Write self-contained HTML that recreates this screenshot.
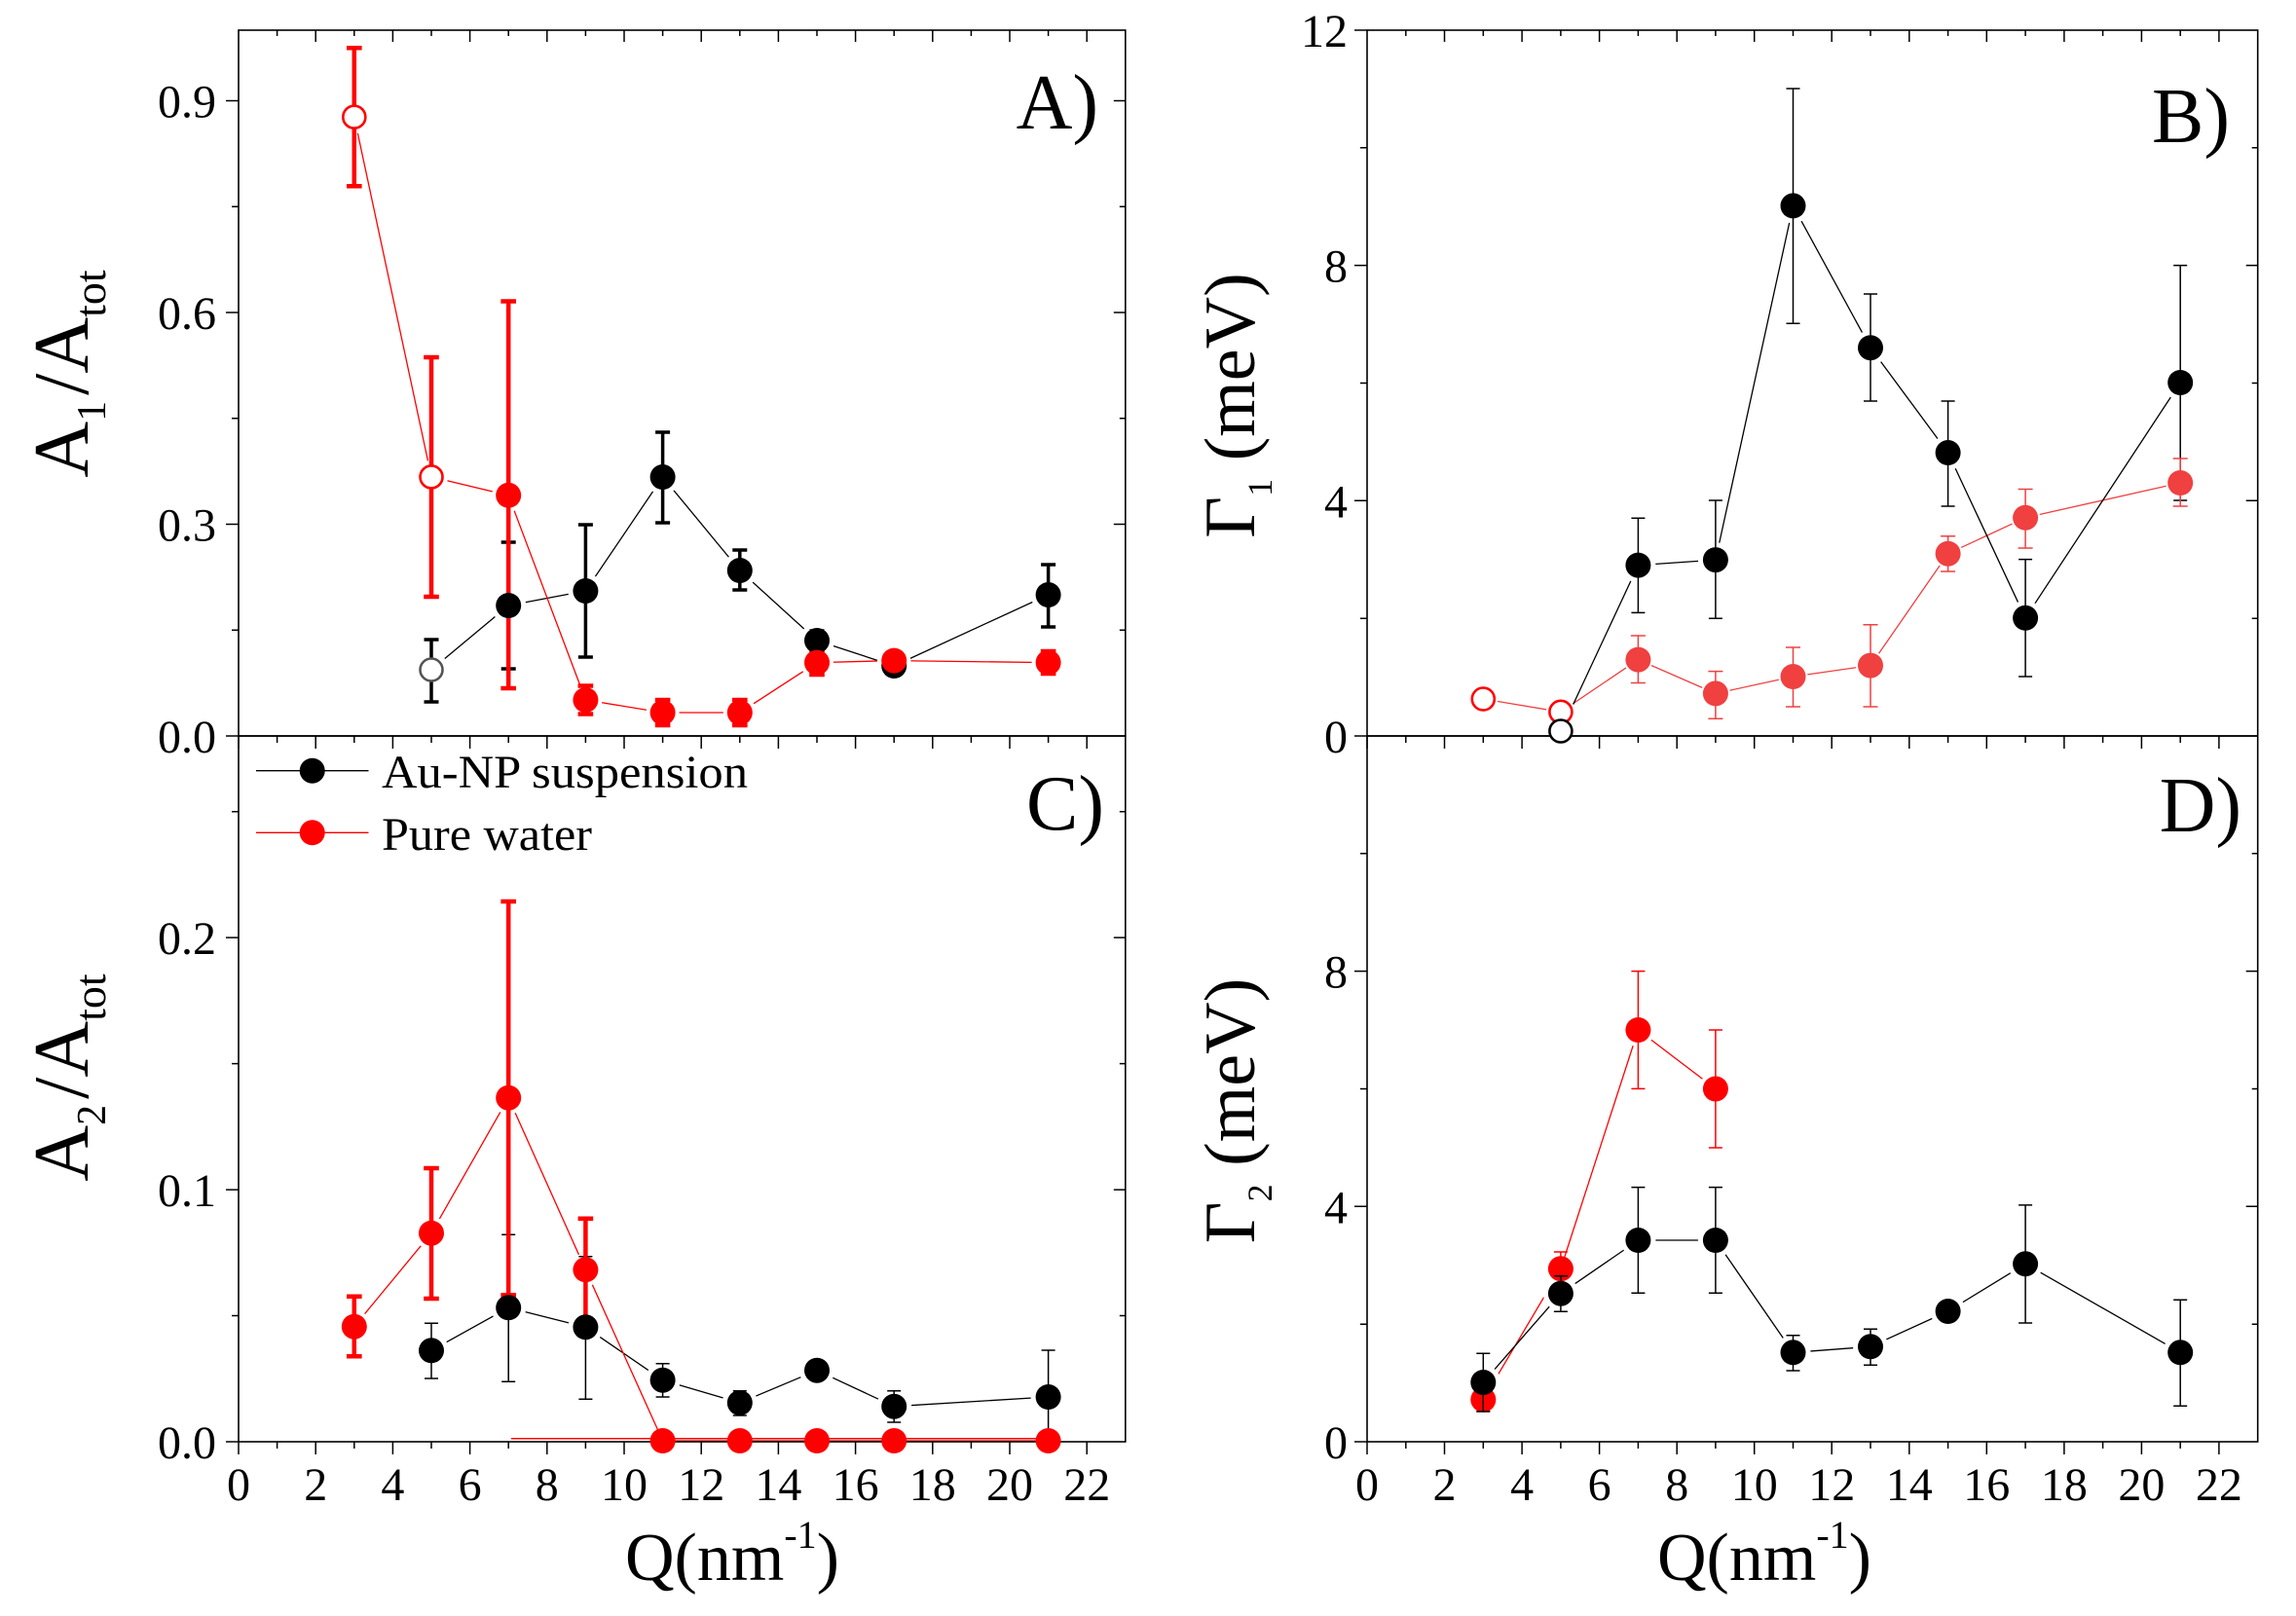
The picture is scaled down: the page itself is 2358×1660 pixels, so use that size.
<!DOCTYPE html>
<html>
<head>
<meta charset="utf-8">
<style>
html,body{margin:0;padding:0;background:#fff;}
svg{display:block;}
text{font-family:"Liberation Serif","DejaVu Serif",serif;fill:#000;}
</style>
</head>
<body>
<svg width="2358" height="1660" viewBox="0 0 2358 1660" xmlns="http://www.w3.org/2000/svg">
<rect width="2358" height="1660" fill="#fff"/>

<!-- ===== connecting lines ===== -->
<g fill="none" stroke-width="1.3" stroke-linejoin="round">
  <polyline stroke="#000" points="443,688 522.2,622 601.4,607 680.6,490 759.8,586 839,658 918.2,684 1076.6,611"/>
  <polyline stroke="#ff0000" points="363.8,120.2 443,489.9 522.2,508.8 601.4,719 680.6,732 759.8,732 839,680.6 918.2,678.6 1076.6,680.6"/>
  <polyline stroke="#f04040" points="1523.3,718 1602.9,731.3 1682.4,677.6 1761.9,712.4 1841.5,695 1921,683.6 2000.6,568.7 2080.1,531.8 2239.2,496"/>
  <polyline stroke="#000" points="1602.9,751 1682.4,580.6 1761.9,575.1 1841.5,211.4 1921,357.2 2000.6,465 2080.1,634.8 2239.2,393"/>
  <polyline stroke="#000" points="443,1387.3 522.2,1343.3 601.4,1363.3 680.6,1417.7 759.8,1441 839,1407.7 918.2,1444.7 1076.6,1435"/>
  <polyline stroke="#ff0000" points="363.8,1362.7 443,1266.7 522.2,1127.7 601.4,1304.3 680.6,1480 759.8,1480 839,1480 918.2,1480 1076.6,1480"/>
  <polyline stroke="#ff0000" points="1523.3,1437.7 1602.9,1303.3 1682.4,1058 1761.9,1118.5"/>
  <polyline stroke="#000" points="1523.3,1420 1602.9,1328.7 1682.4,1274 1761.9,1274 1841.5,1389.3 1921,1383.3 2000.6,1347 2080.1,1298.3 2239.2,1389.3"/>
</g>

<!-- ===== white halos ===== -->
<g fill="#fff">
  <circle cx="443" cy="688" r="18"/><circle cx="522.2" cy="622" r="18"/><circle cx="601.4" cy="607" r="18"/><circle cx="680.6" cy="490" r="18"/><circle cx="759.8" cy="586" r="18"/><circle cx="839" cy="658" r="18"/><circle cx="918.2" cy="684" r="18"/><circle cx="1076.6" cy="611" r="18"/>
  <circle cx="363.8" cy="120.2" r="17"/><circle cx="443" cy="489.9" r="17"/><circle cx="522.2" cy="508.8" r="17"/><circle cx="601.4" cy="719" r="17"/><circle cx="680.6" cy="732" r="17"/><circle cx="759.8" cy="732" r="17"/><circle cx="839" cy="680.6" r="17"/><circle cx="918.2" cy="678.6" r="17"/><circle cx="1076.6" cy="680.6" r="17"/>
  <circle cx="1523.3" cy="718" r="15"/><circle cx="1602.9" cy="731.3" r="15"/><circle cx="1682.4" cy="677.6" r="15"/><circle cx="1761.9" cy="712.4" r="15"/><circle cx="1841.5" cy="695" r="15"/><circle cx="1921" cy="683.6" r="15"/><circle cx="2000.6" cy="568.7" r="15"/><circle cx="2080.1" cy="531.8" r="15"/><circle cx="2239.2" cy="496" r="15"/>
  <circle cx="1602.9" cy="751" r="17"/><circle cx="1682.4" cy="580.6" r="18"/><circle cx="1761.9" cy="575.1" r="18"/><circle cx="1841.5" cy="211.4" r="18"/><circle cx="1921" cy="357.2" r="18"/><circle cx="2000.6" cy="465" r="18"/><circle cx="2080.1" cy="634.8" r="18"/><circle cx="2239.2" cy="393" r="18"/>
  <circle cx="443" cy="1387.3" r="18"/><circle cx="522.2" cy="1343.3" r="18"/><circle cx="601.4" cy="1363.3" r="18"/><circle cx="680.6" cy="1417.7" r="18"/><circle cx="759.8" cy="1441" r="18"/><circle cx="839" cy="1407.7" r="18"/><circle cx="918.2" cy="1444.7" r="18"/><circle cx="1076.6" cy="1435" r="18"/>
  <circle cx="363.8" cy="1362.7" r="17"/><circle cx="443" cy="1266.7" r="17"/><circle cx="522.2" cy="1127.7" r="17"/><circle cx="601.4" cy="1304.3" r="17"/>
  <circle cx="1523.3" cy="1420" r="18"/><circle cx="1602.9" cy="1328.7" r="18"/><circle cx="1682.4" cy="1274" r="18"/><circle cx="1761.9" cy="1274" r="18"/><circle cx="1841.5" cy="1389.3" r="18"/><circle cx="1921" cy="1383.3" r="18"/><circle cx="2000.6" cy="1347" r="18"/><circle cx="2080.1" cy="1298.3" r="18"/><circle cx="2239.2" cy="1389.3" r="18"/>
  <circle cx="1682.4" cy="1058" r="17"/><circle cx="1761.9" cy="1118.5" r="17"/>
</g>

<path d="M525 1477.7H1076.6" stroke="#ff0000" stroke-width="1.5" fill="none"/>

<!-- ===== frames ===== -->
<g fill="none" stroke="#000" stroke-width="1.6">
  <rect x="245" y="31" width="910.8" height="725"/>
  <rect x="245" y="756" width="910.8" height="725"/>
  <rect x="1404" y="31" width="914.7" height="725"/>
  <rect x="1404" y="756" width="914.7" height="725"/>
</g>

<!-- ===== ticks ===== -->
<g fill="none" stroke="#000" stroke-width="1.5">
  <path d="M245 756v13M284.6 756v7M324.2 756v13M363.8 756v7M403.4 756v13M443 756v7M482.6 756v13M522.2 756v7M561.8 756v13M601.4 756v7M641 756v13M680.6 756v7M720.2 756v13M759.8 756v7M799.4 756v13M839 756v7M878.6 756v13M918.2 756v7M957.8 756v13M997.4 756v7M1037 756v13M1076.6 756v7M1116.2 756v13"/>
  <path d="M284.6 31v6M324.2 31v12M363.8 31v6M403.4 31v12M443 31v6M482.6 31v12M522.2 31v6M561.8 31v12M601.4 31v6M641 31v12M680.6 31v6M720.2 31v12M759.8 31v6M799.4 31v12M839 31v6M878.6 31v12M918.2 31v6M957.8 31v12M997.4 31v6M1037 31v12M1076.6 31v6M1116.2 31v12"/>
  <path d="M245 1481v13M284.6 1481v7M324.2 1481v13M363.8 1481v7M403.4 1481v13M443 1481v7M482.6 1481v13M522.2 1481v7M561.8 1481v13M601.4 1481v7M641 1481v13M680.6 1481v7M720.2 1481v13M759.8 1481v7M799.4 1481v13M839 1481v7M878.6 1481v13M918.2 1481v7M957.8 1481v13M997.4 1481v7M1037 1481v13M1076.6 1481v7M1116.2 1481v13"/>
  <path d="M1404 756v13M1443.8 756v7M1483.5 756v13M1523.3 756v7M1563.1 756v13M1602.9 756v7M1642.6 756v13M1682.4 756v7M1722.2 756v13M1761.9 756v7M1801.7 756v13M1841.5 756v7M1881.2 756v13M1921 756v7M1960.8 756v13M2000.6 756v7M2040.3 756v13M2080.1 756v7M2119.9 756v13M2159.6 756v7M2199.4 756v13M2239.2 756v7M2278.9 756v13"/>
  <path d="M1443.8 31v6M1483.5 31v12M1523.3 31v6M1563.1 31v12M1602.9 31v6M1642.6 31v12M1682.4 31v6M1722.2 31v12M1761.9 31v6M1801.7 31v12M1841.5 31v6M1881.2 31v12M1921 31v6M1960.8 31v12M2000.6 31v6M2040.3 31v12M2080.1 31v6M2119.9 31v12M2159.6 31v6M2199.4 31v12M2239.2 31v6M2278.9 31v12"/>
  <path d="M1404 1481v13M1443.8 1481v7M1483.5 1481v13M1523.3 1481v7M1563.1 1481v13M1602.9 1481v7M1642.6 1481v13M1682.4 1481v7M1722.2 1481v13M1761.9 1481v7M1801.7 1481v13M1841.5 1481v7M1881.2 1481v13M1921 1481v7M1960.8 1481v13M2000.6 1481v7M2040.3 1481v13M2080.1 1481v7M2119.9 1481v13M2159.6 1481v7M2199.4 1481v13M2239.2 1481v7M2278.9 1481v13"/>
  <path d="M245 756h-13M245 647.25h-7M245 538.5h-13M245 429.75h-7M245 321h-13M245 212.25h-7M245 103.5h-13"/>
  <path d="M1155.8 647.25h-6M1155.8 538.5h-12M1155.8 429.75h-6M1155.8 321h-12M1155.8 212.25h-6M1155.8 103.5h-12"/>
  <path d="M245 1481h-13M245 1351.5h-7M245 1222.1h-13M245 1092.6h-7M245 963.1h-13M245 833.7h-7"/>
  <path d="M1155.8 1351.5h-6M1155.8 1222.1h-12M1155.8 1092.6h-6M1155.8 963.1h-12M1155.8 833.7h-6"/>
  <path d="M1404 756h-13M1404 635.2h-7M1404 514.3h-13M1404 393.5h-7M1404 272.6h-13M1404 151.8h-7M1404 31h-13"/>
  <path d="M2318.7 635.2h-6M2318.7 514.3h-12M2318.7 393.5h-6M2318.7 272.6h-12M2318.7 151.8h-6"/>
  <path d="M1404 1481h-13M1404 1360.2h-7M1404 1239.3h-13M1404 1118.5h-7M1404 997.6h-13M1404 876.8h-7"/>
  <path d="M2318.7 1360.2h-6M2318.7 1239.3h-12M2318.7 1118.5h-6M2318.7 997.6h-12M2318.7 876.8h-6"/>
</g>

<!-- ===== error bars ===== -->
<path fill="none" stroke="#000" stroke-width="3.5" d="
M443 657V721M435.5 657H450.5M435.5 721H450.5
M522.2 557V687M514.7 557H529.7M514.7 687H529.7
M601.4 539V675M593.9 539H608.9M593.9 675H608.9
M680.6 444V537M673.1 444H688.1M673.1 537H688.1
M759.8 565V606M752.3 565H767.3M752.3 606H767.3
M839 648V668M831.5 648H846.5M831.5 668H846.5
M1076.6 580V644M1069.1 580H1084.1M1069.1 644H1084.1"/>
<path fill="none" stroke="#ff0000" stroke-width="4.5" d="
M363.8 49.2V191.3M356 49.2H371.6M356 191.3H371.6
M443 367V613M435.2 367H450.8M435.2 613H450.8
M522.2 309.5V707M514.4 309.5H530M514.4 707H530
M601.4 704.5V733.5M593.6 704.5H609.2M593.6 733.5H609.2
M680.6 719V745M672.8 719H688.4M672.8 745H688.4
M759.8 719V745M752 719H767.6M752 745H767.6
M839 669V693M831.2 669H846.8M831.2 693H846.8
M1076.6 669V692M1068.8 669H1084.4M1068.8 692H1084.4"/>
<path fill="none" stroke="#000" stroke-width="1.5" d="
M1682.4 532.3V629.4M1675.4 532.3H1689.4M1675.4 629.4H1689.4
M1761.9 514V635.3M1754.9 514H1768.9M1754.9 635.3H1768.9
M1841.5 91V332.3M1834.5 91H1848.5M1834.5 332.3H1848.5
M1921 302V412M1914 302H1928M1914 412H1928
M2000.6 412V520M1993.6 412H2007.6M1993.6 520H2007.6
M2080.1 574.6V695M2073.1 574.6H2087.1M2073.1 695H2087.1
M2239.2 272.6V514M2232.2 272.6H2246.2M2232.2 514H2246.2"/>
<path fill="none" stroke="#f04040" stroke-width="1.5" d="
M1682.4 653V701.5M1674.9 653H1689.9M1674.9 701.5H1689.9
M1761.9 689.6V738.3M1754.4 689.6H1769.4M1754.4 738.3H1769.4
M1841.5 665V726M1834 665H1849M1834 726H1849
M1921 641.8V726M1913.5 641.8H1928.5M1913.5 726H1928.5
M2000.6 550.7V587M1993.1 550.7H2008.1M1993.1 587H2008.1
M2080.1 502.5V563M2072.6 502.5H2087.6M2072.6 563H2087.6
M2239.2 471V520M2231.7 471H2246.7M2231.7 520H2246.7"/>
<path fill="none" stroke="#000" stroke-width="1.5" d="
M443 1359.3V1416M436 1359.3H450M436 1416H450
M522.2 1268.3V1419.3M515.2 1268.3H529.2M515.2 1419.3H529.2
M601.4 1290.7V1437.3M594.4 1290.7H608.4M594.4 1437.3H608.4
M680.6 1400.7V1435M673.6 1400.7H687.6M673.6 1435H687.6
M759.8 1428.7V1454M752.8 1428.7H766.8M752.8 1454H766.8
M839 1400V1415M832 1400H846M832 1415H846
M918.2 1428.7V1461M911.2 1428.7H925.2M911.2 1461H925.2
M1076.6 1387V1481M1069.6 1387H1083.6"/>
<path fill="none" stroke="#ff0000" stroke-width="4.5" d="
M363.8 1331.7V1393.3M356 1331.7H371.6M356 1393.3H371.6
M443 1200V1334M435.2 1200H450.8M435.2 1334H450.8
M522.2 926V1330.3M514.4 926H530M514.4 1330.3H530
M601.4 1251.7V1359M593.6 1251.7H609.2M593.6 1359H609.2"/>
<path fill="none" stroke="#ff0000" stroke-width="1.5" d="
M1523.3 1425.6V1449.8M1516.3 1425.6H1530.3M1516.3 1449.8H1530.3
M1602.9 1286V1321M1595.9 1286H1609.9M1595.9 1321H1609.9
M1682.4 997.6V1118.4M1675.4 997.6H1689.4M1675.4 1118.4H1689.4
M1761.9 1058V1179M1754.9 1058H1768.9M1754.9 1179H1768.9"/>

<!-- ===== markers ===== -->
<g fill="#ff0000">
  <circle cx="1523.3" cy="1437.7" r="13"/><circle cx="1602.9" cy="1303.3" r="13"/><circle cx="1682.4" cy="1058" r="13"/><circle cx="1761.9" cy="1118.5" r="13"/>
</g>
<path fill="none" stroke="#000" stroke-width="1.5" d="
M1523.3 1390.3V1450M1516.3 1390.3H1530.3M1516.3 1450H1530.3
M1602.9 1310.7V1347.3M1595.9 1310.7H1609.9M1595.9 1347.3H1609.9
M1682.4 1219.6V1328.3M1675.4 1219.6H1689.4M1675.4 1328.3H1689.4
M1761.9 1219.6V1328.3M1754.9 1219.6H1768.9M1754.9 1328.3H1768.9
M1841.5 1371.7V1408M1834.5 1371.7H1848.5M1834.5 1408H1848.5
M1921 1365.3V1402.3M1914 1365.3H1928M1914 1402.3H1928
M2000.6 1341V1353M1993.6 1341H2007.6M1993.6 1353H2007.6
M2080.1 1237.9V1359M2073.1 1237.9H2087.1M2073.1 1359H2087.1
M2239.2 1335.3V1444.3M2232.2 1335.3H2246.2M2232.2 1444.3H2246.2"/>
<g fill="#000">
  <circle cx="1523.3" cy="1420" r="13"/><circle cx="1602.9" cy="1328.7" r="13"/><circle cx="1682.4" cy="1274" r="13"/><circle cx="1761.9" cy="1274" r="13"/><circle cx="1841.5" cy="1389.3" r="13"/><circle cx="1921" cy="1383.3" r="13"/><circle cx="2000.6" cy="1347" r="13"/><circle cx="2080.1" cy="1298.3" r="13"/><circle cx="2239.2" cy="1389.3" r="13"/>
</g>

<g fill="#f04040">
  <circle cx="1682.4" cy="677.6" r="13"/><circle cx="1761.9" cy="712.4" r="13"/><circle cx="1841.5" cy="695" r="13"/><circle cx="1921" cy="683.6" r="13"/><circle cx="2000.6" cy="568.7" r="13"/><circle cx="2080.1" cy="531.8" r="13"/><circle cx="2239.2" cy="496" r="13"/>
</g>
<g fill="#fff" stroke="#ff0000" stroke-width="2.6">
  <circle cx="1523.3" cy="718" r="11.5"/><circle cx="1602.9" cy="731.3" r="11.5"/>
</g>
<g fill="#000">
  <circle cx="1682.4" cy="580.6" r="13"/><circle cx="1761.9" cy="575.1" r="13"/><circle cx="1841.5" cy="211.4" r="13"/><circle cx="1921" cy="357.2" r="13"/><circle cx="2000.6" cy="465" r="13"/><circle cx="2080.1" cy="634.8" r="13"/><circle cx="2239.2" cy="393" r="13"/>
</g>
<circle cx="1602.9" cy="751" r="11.5" fill="#fff" stroke="#000" stroke-width="2.6"/>

<g fill="#000">
  <circle cx="522.2" cy="622" r="13"/><circle cx="601.4" cy="607" r="13"/><circle cx="680.6" cy="490" r="13"/><circle cx="759.8" cy="586" r="13"/><circle cx="839" cy="658" r="13"/><circle cx="918.2" cy="684" r="13"/><circle cx="1076.6" cy="611" r="13"/>
</g>
<circle cx="443" cy="688" r="11.5" fill="#fff" stroke="#555" stroke-width="2.6"/>
<g fill="#ff0000">
  <circle cx="522.2" cy="508.8" r="13"/><circle cx="601.4" cy="719" r="13"/><circle cx="680.6" cy="732" r="13"/><circle cx="759.8" cy="732" r="13"/><circle cx="839" cy="680.6" r="13"/><circle cx="918.2" cy="678.6" r="13"/><circle cx="1076.6" cy="680.6" r="13"/>
</g>
<g fill="#fff" stroke="#ff0000" stroke-width="2.6">
  <circle cx="363.8" cy="120.2" r="11.5"/><circle cx="443" cy="489.9" r="11.5"/>
</g>

<g fill="#000">
  <circle cx="443" cy="1387.3" r="13"/><circle cx="522.2" cy="1343.3" r="13"/><circle cx="601.4" cy="1363.3" r="13"/><circle cx="680.6" cy="1417.7" r="13"/><circle cx="759.8" cy="1441" r="13"/><circle cx="839" cy="1407.7" r="13"/><circle cx="918.2" cy="1444.7" r="13"/><circle cx="1076.6" cy="1435" r="13"/>
</g>
<g fill="#ff0000">
  <circle cx="363.8" cy="1362.7" r="13"/><circle cx="443" cy="1266.7" r="13"/><circle cx="522.2" cy="1127.7" r="13"/><circle cx="601.4" cy="1304.3" r="13"/>
  <circle cx="680.6" cy="1480" r="13"/><circle cx="759.8" cy="1480" r="13"/><circle cx="839" cy="1480" r="13"/><circle cx="918.2" cy="1480" r="13"/><circle cx="1076.6" cy="1480" r="13"/>
</g>

<!-- ===== legend ===== -->
<path d="M263 791.7H378.5" stroke="#000" stroke-width="1.3"/>
<circle cx="320.7" cy="791.7" r="13" fill="#000"/>
<path d="M263 855.3H378.5" stroke="#ff0000" stroke-width="1.3"/>
<circle cx="320.7" cy="855.3" r="13" fill="#ff0000"/>
<text x="392" y="809" font-size="48" textLength="376" lengthAdjust="spacingAndGlyphs">Au-NP suspension</text>
<text x="392" y="873" font-size="48" textLength="216" lengthAdjust="spacingAndGlyphs">Pure water</text>

<!-- ===== tick labels ===== -->
<g font-size="48" text-anchor="end">
  <text x="222" y="773">0.0</text>
  <text x="222" y="555.5">0.3</text>
  <text x="222" y="338">0.6</text>
  <text x="222" y="120.5">0.9</text>
  <text x="222" y="1498">0.0</text>
  <text x="222" y="1239.1">0.1</text>
  <text x="222" y="980.1">0.2</text>
  <text x="1384" y="773">0</text>
  <text x="1384" y="531.3">4</text>
  <text x="1384" y="289.6">8</text>
  <text x="1384" y="48">12</text>
  <text x="1384" y="1498">0</text>
  <text x="1384" y="1256.3">4</text>
  <text x="1384" y="1014.6">8</text>
</g>
<g font-size="48" text-anchor="middle">
  <text x="245" y="1541">0</text><text x="324.2" y="1541">2</text><text x="403.4" y="1541">4</text><text x="482.6" y="1541">6</text><text x="561.8" y="1541">8</text><text x="641" y="1541">10</text><text x="720.2" y="1541">12</text><text x="799.4" y="1541">14</text><text x="878.6" y="1541">16</text><text x="957.8" y="1541">18</text><text x="1037" y="1541">20</text><text x="1116.2" y="1541">22</text>
  <text x="1404" y="1541">0</text><text x="1483.5" y="1541">2</text><text x="1563.1" y="1541">4</text><text x="1642.6" y="1541">6</text><text x="1722.2" y="1541">8</text><text x="1801.7" y="1541">10</text><text x="1881.2" y="1541">12</text><text x="1960.8" y="1541">14</text><text x="2040.3" y="1541">16</text><text x="2119.9" y="1541">18</text><text x="2199.4" y="1541">20</text><text x="2278.9" y="1541">22</text>
</g>

<!-- ===== axis titles ===== -->
<text x="642" y="1623" font-size="70">Q(nm<tspan font-size="40" dy="-33">-1</tspan><tspan dy="33">)</tspan></text>
<text x="1702" y="1623" font-size="70">Q(nm<tspan font-size="40" dy="-33">-1</tspan><tspan dy="33">)</tspan></text>

<text transform="translate(90,384) rotate(-90)" text-anchor="middle" font-size="80">A<tspan font-size="42" dy="18">1</tspan><tspan dy="-18" dx="6">/A</tspan><tspan font-size="46" dy="18">tot</tspan></text>
<text transform="translate(90,1107) rotate(-90)" text-anchor="middle" font-size="80">A<tspan font-size="42" dy="18">2</tspan><tspan dy="-18" dx="6">/A</tspan><tspan font-size="46" dy="18">tot</tspan></text>

<text transform="translate(1288,416.5) rotate(-90)" text-anchor="middle" font-size="74">Γ<tspan font-size="36" dy="18">1</tspan><tspan dy="-18"> (meV)</tspan></text>
<text transform="translate(1288,1141) rotate(-90)" text-anchor="middle" font-size="74">Γ<tspan font-size="36" dy="18">2</tspan><tspan dy="-18"> (meV)</tspan></text>

<!-- ===== panel labels ===== -->
<g font-size="80" text-anchor="end">
  <text x="1128" y="132">A)</text>
  <text x="2290" y="146">B)</text>
  <text x="1134" y="852">C)</text>
  <text x="2302" y="854">D)</text>
</g>
</svg>
</body>
</html>
